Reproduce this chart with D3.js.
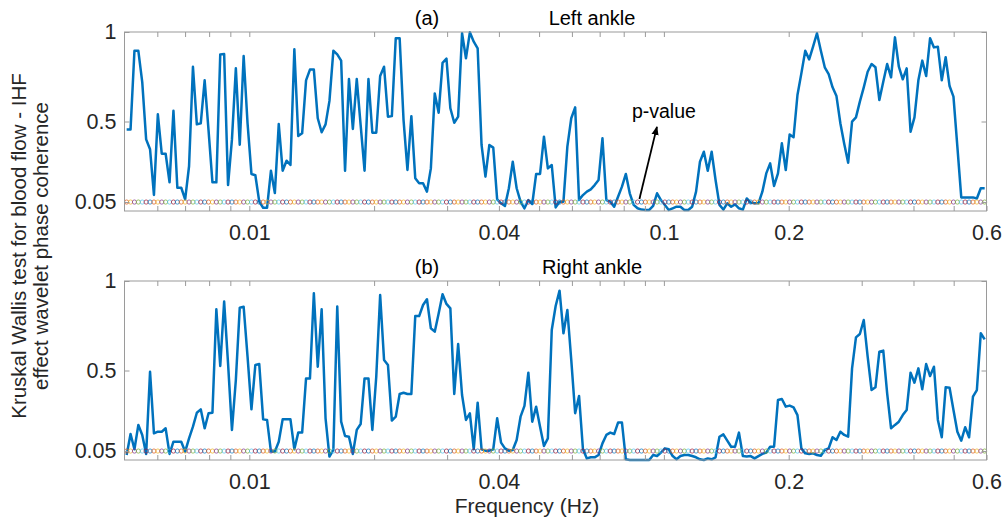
<!DOCTYPE html>
<html><head><meta charset="utf-8">
<script src="https://cdn.jsdelivr.net/npm/d3@7"></script>
<style>
html,body{margin:0;padding:0;background:#fff;}
svg{display:block;font-family:"Liberation Sans",Arial,Helvetica,sans-serif;}
</style></head><body>
<svg id="chart" width="1006" height="519"></svg>
<script>
// p-values of the Kruskal-Wallis test, one per wavelet frequency bin
const pLeft = [
  0.456,0.456,0.895,0.895,0.72,0.40,0.345,0.09,0.54,0.32,
  0.32,0.16,0.56,0.13,0.13,0.065,0.25,0.806,0.484,0.49,
  0.73,0.45,0.16,0.16,0.875,0.877,0.145,0.40,0.797,0.37,
  0.866,0.49,0.207,0.20,0.052,0.018,0.018,0.225,0.10,0.486,
  0.225,0.281,0.257,0.903,0.419,0.434,0.73,0.79,0.79,0.518,
  0.44,0.484,0.615,0.895,0.875,0.84,0.225,0.737,0.458,0.737,
  0.48,0.225,0.737,0.437,0.437,0.754,0.806,0.527,0.53,0.965,
  0.965,0.508,0.229,0.53,0.183,0.155,0.155,0.108,0.238,0.657,
  0.549,0.828,0.851,0.574,0.493,0.527,0.993,0.853,0.998,0.946,
  0.909,0.369,0.192,0.369,0.354,0.065,0.043,0.028,0.127,0.275,
  0.127,0.052,0.015,0.061,0.039,0.207,0.207,0.415,0.238,0.257,
  0.02,0.052,0.052,0.36,0.518,0.579,0.061,0.089,0.108,0.121,
  0.145,0.173,0.406,0.061,0.052,0.024,0.08,0.136,0.207,0.099,
  0.034,0.015,0.008,0.006,0.006,0.028,0.099,0.061,0.034,0.006,
  0.015,0.024,0.024,0.006,0.006,0.024,0.108,0.275,0.331,0.225,
  0.331,0.173,0.034,0.008,0.043,0.024,0.037,0.015,0.008,0.07,
  0.047,0.043,0.043,0.108,0.21,0.266,0.14,0.21,0.378,0.229,
  0.428,0.412,0.648,0.769,0.895,0.847,0.918,0.993,0.895,0.803,
  0.765,0.691,0.642,0.49,0.374,0.27,0.499,0.523,0.611,0.691,
  0.778,0.821,0.803,0.62,0.722,0.821,0.747,0.97,0.806,0.736,
  0.797,0.443,0.523,0.73,0.84,0.754,0.965,0.914,0.918,0.73,
  0.859,0.698,0.639,0.36,0.076,0.076,0.076,0.076,0.07,0.127,0.127
];
const pRight = [
  0.028,0.145,0.06,0.196,0.14,0.034,0.493,0.149,0.158,0.158,
  0.177,0.034,0.102,0.102,0.102,0.047,0.121,0.186,0.264,0.283,
  0.177,0.261,0.264,0.842,0.525,0.885,0.54,0.168,0.447,0.851,
  0.856,0.577,0.283,0.531,0.536,0.227,0.224,0.047,0.047,0.102,
  0.227,0.227,0.227,0.06,0.153,0.153,0.456,0.456,0.931,0.521,
  0.842,0.233,0.019,0.056,0.857,0.214,0.134,0.13,0.034,0.168,
  0.201,0.456,0.456,0.168,0.465,0.922,0.559,0.531,0.22,0.242,
  0.369,0.376,0.369,0.369,0.804,0.804,0.866,0.898,0.736,0.717,
  0.819,0.926,0.872,0.847,0.369,0.648,0.363,0.224,0.261,0.06,
  0.32,0.06,0.052,0.052,0.06,0.233,0.097,0.065,0.052,0.056,
  0.112,0.242,0.302,0.488,0.214,0.298,0.186,0.078,0.121,0.726,
  0.86,0.946,0.708,0.838,0.559,0.261,0.358,0.06,0.009,0.015,
  0.015,0.028,0.093,0.14,0.153,0.145,0.209,0.209,0.004,0.0,
  0.0,0.0,0.0,0.0,0.0,0.028,0.022,0.041,0.065,0.06,
  0.022,0.004,0.022,0.028,0.028,0.022,0.015,0.004,0.0,0.009,
  0.004,0.015,0.13,0.143,0.108,0.074,0.074,0.153,0.022,0.019,
  0.022,0.009,0.022,0.034,0.041,0.074,0.074,0.335,0.341,0.298,
  0.304,0.294,0.251,0.065,0.037,0.034,0.037,0.028,0.024,0.056,
  0.065,0.127,0.112,0.158,0.14,0.13,0.512,0.685,0.704,0.782,
  0.577,0.391,0.406,0.605,0.611,0.372,0.177,0.196,0.214,0.251,
  0.279,0.488,0.432,0.512,0.395,0.536,0.469,0.521,0.224,0.127,
  0.406,0.404,0.279,0.158,0.108,0.183,0.127,0.354,0.391,0.708,0.674
];

// wavelet frequency bins: 32 voices per octave from 5.06 mHz
const freqStart = 0.00506;
const voicesPerOctave = 32;
const freq = d3.range(pLeft.length).map(k => freqStart * Math.pow(2, k / voicesPerOctave));

const significance = 0.05;
const xDomain = [0.005, 0.6];
const xTickValues = [0.006,0.007,0.008,0.009,0.01,0.02,0.03,0.04,0.05,0.06,0.07,0.08,0.09,0.1,0.2,0.3,0.4,0.5];
const xTickLabelsA = ["0.01","0.04","0.1","0.2","0.6"];
const xTickLabelsB = ["0.01","0.04","0.2","0.6"];
const yTickValues = [0.05, 0.5, 1];
const yTickLabels = ["0.05", "0.5", "1"];
const panelTags = ["(a)", "(b)"];
const panelTitles = ["Left ankle", "Right ankle"];
const markerColors = ["#D95319","#EDB120","#7E2F8E","#77AC30","#4DBEEE","#A2142F","#0072BD"];

const svg = d3.select("#chart");
const left = 124.5, right = 986.5;
const panels = [{top: 32, bottom: 211}, {top: 281, bottom: 460}];
const axisGray = "#9a9a9a";
const textDark = "#262626";

const x = d3.scaleLog().domain(xDomain).range([left, right]);

function drawPanel(i, values, labels) {
  const P = panels[i];
  const y = d3.scaleLinear().domain([0, 1]).range([P.bottom, P.top]);
  const g = svg.append("g");

  // data line
  const line = d3.line().x((d, k) => x(freq[k])).y(d => y(d));
  g.append("path").datum(values)
    .attr("d", line)
    .attr("fill", "none")
    .attr("stroke", "#0072BD")
    .attr("stroke-width", 2.5)
    .attr("stroke-linejoin", "round");

  // significance markers, one per frequency bin
  g.append("g").selectAll("circle").data(freq).join("circle")
    .attr("cx", d => x(d))
    .attr("cy", y(significance))
    .attr("r", 2.1)
    .attr("fill", "none")
    .attr("stroke", (d, k) => markerColors[k % markerColors.length])
    .attr("stroke-width", 0.7);

  // box
  g.append("rect")
    .attr("x", left).attr("y", P.top)
    .attr("width", right - left).attr("height", P.bottom - P.top)
    .attr("fill", "none").attr("stroke", axisGray).attr("stroke-width", 1);

  const allX = xTickValues.concat(labels.map(Number)).filter((v, j, a) => a.indexOf(v) === j);
  const bottomAxis = d3.axisBottom(x).tickValues(allX.sort((a, b) => a - b))
    .tickSizeInner(-5).tickSizeOuter(0).tickPadding(14)
    .tickFormat(v => { const s = labels.find(l => Math.abs(+l - v) < 1e-9); return s || ""; });
  const gb = g.append("g").attr("transform", `translate(0,${P.bottom})`).call(bottomAxis);
  const topAxis = d3.axisTop(x).tickValues(xTickValues).tickSizeInner(-5).tickSizeOuter(0).tickFormat("");
  const gt = g.append("g").attr("transform", `translate(0,${P.top})`).call(topAxis);

  const leftAxis = d3.axisLeft(y).tickValues(yTickValues).tickSizeInner(-5).tickSizeOuter(0).tickPadding(8)
    .tickFormat((v, j) => yTickLabels[j]);
  const gl = g.append("g").attr("transform", `translate(${left},0)`).call(leftAxis);
  const rightAxis = d3.axisRight(y).tickValues(yTickValues).tickSizeInner(-5).tickSizeOuter(0).tickFormat("");
  const gr = g.append("g").attr("transform", `translate(${right},0)`).call(rightAxis);

  [gb, gt, gl, gr].forEach(a => {
    a.select(".domain").remove();
    a.selectAll(".tick line").attr("stroke", axisGray);
    a.selectAll(".tick text").attr("fill", textDark).style("font-size", "21.5px")
      .style("font-family", '"Liberation Sans",Arial,Helvetica,sans-serif');
  });

  // panel title
  g.append("text").attr("x", 427).attr("y", P.top - 7).attr("text-anchor", "middle")
    .attr("fill", "#000").style("font-size", "20px").text(panelTags[i]);
  g.append("text").attr("x", 592).attr("y", P.top - 7).attr("text-anchor", "middle")
    .attr("fill", "#000").style("font-size", "20px").text(panelTitles[i]);
  return y;
}

const yA = drawPanel(0, pLeft, xTickLabelsA);
drawPanel(1, pRight, xTickLabelsB);

// p-value annotation on the upper panel
svg.append("defs").append("marker")
  .attr("id", "head").attr("viewBox", "0 0 10 10").attr("refX", 9).attr("refY", 5)
  .attr("markerWidth", 5).attr("markerHeight", 5).attr("orient", "auto")
  .append("path").attr("d", "M0,1 L10,5 L0,9 Z").attr("fill", "#000");
svg.append("line")
  .attr("x1", x(0.0873)).attr("y1", yA(0.067))
  .attr("x2", x(0.0962)).attr("y2", yA(0.47))
  .attr("stroke", "#000").attr("stroke-width", 1.8).attr("marker-end", "url(#head)");
svg.append("text").attr("x", x(0.1)).attr("y", yA(0.52)).attr("text-anchor", "middle")
  .style("font-size", "19.5px").attr("fill", "#000").text("p-value");

// axis labels
svg.append("text").attr("x", 527).attr("y", 513).attr("text-anchor", "middle")
  .style("font-size", "21px").attr("fill", textDark).text("Frequency (Hz)");
const yl = svg.append("text").attr("transform", "translate(0,246) rotate(-90)")
  .attr("text-anchor", "middle").style("font-size", "20.5px").attr("fill", textDark);
yl.append("tspan").attr("x", 0).attr("y", 26).text("Kruskal Wallis test for blood flow - IHF");
yl.append("tspan").attr("x", 0).attr("y", 48).text("effect wavelet phase coherence");
</script>
</body></html>
